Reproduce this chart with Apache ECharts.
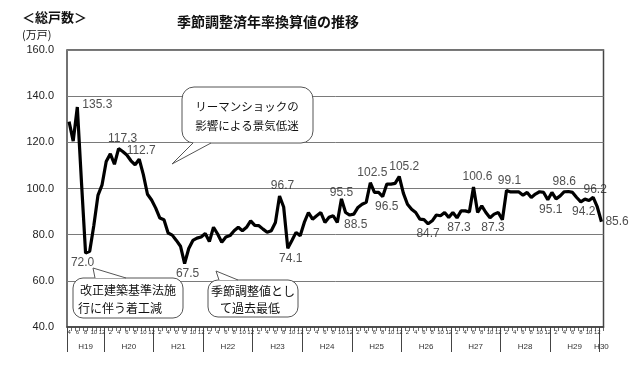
<!DOCTYPE html>
<html><head><meta charset="utf-8">
<script src="https://cdn.jsdelivr.net/npm/echarts@6/dist/echarts.min.js"></script>
<style>html,body{margin:0;padding:0;background:#fff}#c{width:640px;height:365px}</style>
</head><body><div id="c"></div>
<script>
// Monthly data: H19.4 (Apr 2007) .. H30.1 (Jan 2018), 万戸 (seasonally adjusted annual rate)
const startYear = 2007, startMonth = 4, monthCount = 130;
const values = [
 129.0,120.5,135.3,103.0,72.0,72.8,84.0,97.0,101.6,111.7,115.0,110.5,
 117.3,116.0,114.5,112.0,110.3,112.7,106.0,97.5,95.0,91.5,87.2,86.5,
 80.7,79.8,77.5,75.0,67.5,74.0,77.5,78.5,79.0,80.5,77.0,83.2,
 80.3,76.7,79.0,79.6,81.7,83.2,81.7,83.2,86.0,84.0,83.9,82.4,
 81.0,81.7,85.3,96.7,92.0,74.1,77.5,81.0,79.5,85.3,89.6,86.7,
 88.2,89.6,85.3,87.5,88.2,85.3,95.5,89.6,88.5,88.9,91.8,93.2,
 94.0,102.5,98.3,98.3,96.5,101.9,101.9,102.2,105.2,98.0,93.2,91.0,
 89.6,86.7,86.5,84.7,86.0,88.5,88.2,89.6,87.5,89.6,87.3,90.3,
 90.3,89.8,100.6,89.6,92.5,89.6,87.3,88.9,89.6,86.5,99.1,98.5,
 98.5,98.5,97.1,98.3,96.1,97.6,98.6,98.3,95.1,98.3,95.5,96.8,
 98.6,98.7,98.3,96.1,94.2,95.4,94.8,96.2,92.0,85.6
];
const yearNames = ['H19','H20','H21','H22','H23','H24','H25','H26','H27','H28','H29','H30'];
const yTicks = [40,60,80,100,120,140,160];
const labeledIdx = [2,4,12,17,28,51,53,66,68,73,76,80,87,94,98,102,106,116,120,124,127,129];

// categories (year, month)
const cats = [], monthNums = [];
for (let k = 0; k < monthCount; k++) {
  const m0 = startMonth - 1 + k;
  const y = startYear + Math.floor(m0 / 12), m = m0 % 12 + 1;
  cats.push(y + '-' + m); monthNums.push(m);
}
// year boundaries (start of each year block) and label centres
const bounds = [0];
for (let k = 1; k < monthCount; k++) if (monthNums[k] === 1) bounds.push(k);
const centres = bounds.map((b, j) => (b + (j + 1 < bounds.length ? bounds[j + 1] : monthCount)) / 2);

const labelPlace = {
  2:['right',[1,-2]],4:['bottom',[-3,0]],12:['top',[4,0]],17:['top',[2,2]],28:['bottom',[3,0]],
  51:['top',[3,0]],53:['bottom',[3,0]],66:['top',[0,4]],68:['bottom',[6,0]],73:['top',[2,0]],
  76:['bottom',[4,0]],80:['top',[5,0]],87:['bottom',[0,0]],94:['bottom',[2,0]],98:['top',[4,0]],
  102:['bottom',[3,0]],106:['top',[3,0]],116:['bottom',[3,0]],120:['top',[0,0]],124:['bottom',[3,0]],
  127:['top',[2,2]],129:['right',[0,0]]
};
const labelData = labeledIdx.map(k => {
  const p = labelPlace[k];
  return {value: [k, values[k]], label: {show: true, position: p[0], offset: p[1], distance: 4,
    formatter: values[k].toFixed(1), fontSize: 12, color: '#222', fontFamily: 'Liberation Sans'}};
});

function callout(x, y, w, h, r, side, b1, b2, tx, ty) {
  const ey = side === 'top' ? y : y + h;
  return [
    {type: 'rect', z: 10, shape: {x: x, y: y, width: w, height: h, r: r},
     style: {fill: '#fff', stroke: '#555', lineWidth: 1}},
    {type: 'polygon', z: 11, shape: {points: [[b1, ey], [tx, ty], [b2, ey]]},
     style: {fill: '#fff', stroke: null}},
    {type: 'polyline', z: 12, shape: {points: [[b1, ey], [tx, ty], [b2, ey]]},
     style: {fill: null, stroke: '#555', lineWidth: 1}}
  ];
}
function txt(x, y, s, size, bold, align) {
  return {type: 'text', x: x, y: y, z: 13, style: {text: s, fill: '#111', font: (bold ? 'bold ' : '') + size + 'px "Noto Sans CJK JP"', textAlign: align || 'center', textVerticalAlign: 'middle'}};
}

const chart = echarts.init(document.getElementById('c'));
chart.setOption({
  animation: false,
  grid: {left: 67, right: 36.5, top: 50, bottom: 38, show: true, borderColor: '#444', borderWidth: 1.5, backgroundColor: 'transparent'},
  xAxis: [{
    type: 'category', data: cats, boundaryGap: true,
    axisLine: {show: true, lineStyle: {color: '#444', width: 1.5}},
    axisTick: {show: true, interval: 0, length: 4, lineStyle: {color: '#444', width: 0.8}},
    axisLabel: {interval: 1, fontSize: 6, margin: 2, color: '#333', fontFamily: 'Liberation Sans',
      formatter: (v, k) => String(monthNums[k])},
    splitLine: {show: false}
  }, {
    type: 'value', min: 0, max: monthCount, position: 'bottom',
    axisLine: {show: false}, splitLine: {show: false},
    axisTick: {show: true, customValues: bounds, length: 25, lineStyle: {color: '#444', width: 1}},
    axisLabel: {customValues: centres, margin: 16, fontSize: 8, color: '#333', fontFamily: 'Liberation Sans',
      formatter: v => { const j = centres.indexOf(v); return j >= 0 ? yearNames[j] : ''; }}
  }],
  yAxis: {
    type: 'value', min: yTicks[0], max: yTicks[yTicks.length - 1], interval: 20,
    axisLine: {show: false}, axisTick: {show: false},
    axisLabel: {formatter: v => v.toFixed(1), fontSize: 11, color: '#222', margin: 13, fontFamily: 'Liberation Sans'},
    splitLine: {show: true, lineStyle: {color: '#7a7a7a', width: 1}}
  },
  series: [{
    type: 'line', xAxisIndex: 0, data: values, showSymbol: false, symbol: 'none',
    lineStyle: {color: '#000', width: 3.2}, z: 5
  }, {
    type: 'scatter', xAxisIndex: 0, data: labelData, symbolSize: 0, z: 6,
    itemStyle: {color: 'transparent'}
  }],
  graphic: [
    txt(22, 17, '＜総戸数＞', 13, true, 'left'),
    txt(22, 35, '(万戸)', 11, false, 'left'),
    txt(268, 22, '季節調整済年率換算値の推移', 14, true, 'center'),
    ...callout(182, 87, 131, 56, 12, 'bottom', 193, 211, 172, 164),
    txt(247, 107, 'リーマンショックの', 11.5, false),
    txt(247, 126, '影響による景気低迷', 11.5, false),
    ...callout(73, 278, 110, 40, 10, 'top', 95, 126, 93, 268),
    txt(128, 290, '改正建築基準法施', 12, false),
    txt(120, 308, '行に伴う着工減', 12, false),
    ...callout(208, 280, 90, 37, 10, 'top', 219, 238, 216, 271),
    txt(253, 291, '季節調整値とし', 12, false),
    txt(250, 308, 'て過去最低', 12, false)
  ]
});
</script></body></html>
